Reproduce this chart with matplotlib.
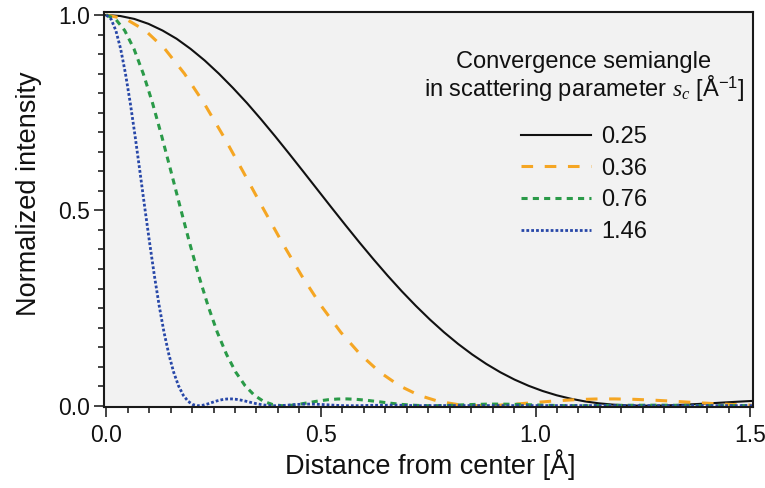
import matplotlib
matplotlib.use("Agg")
import matplotlib.pyplot as plt
from matplotlib.ticker import MultipleLocator

plt.rcParams['font.family'] = ['Liberation Sans', 'DejaVu Sans']
plt.rcParams['mathtext.fontset'] = 'custom'
plt.rcParams['mathtext.rm'] = 'Liberation Sans'
plt.rcParams['mathtext.it'] = 'Liberation Serif:italic'

# normalized intensity profile shared by the three narrower probes
profile = [1.0, 0.990, 0.9604, 0.9133, 0.8501, 0.7748, 0.6897, 0.5993, 0.5075,
           0.4175, 0.3326, 0.2555, 0.1879, 0.1312, 0.0856, 0.0511, 0.0267,
           0.0111, 0.0028, 0.00005, 0.0011, 0.00436, 0.0085, 0.01245, 0.01547,
           0.01717, 0.01742, 0.01636, 0.01425, 0.0115, 0.0085, 0.00564,
           0.00322, 0.00143, 0.00037, 0.0, 0.00023, 0.00088, 0.00176, 0.00267,
           0.00344, 0.00396, 0.00416, 0.00402, 0.0036, 0.00297, 0.00223,
           0.00149, 0.00085, 0.00036, 0.00008, 0.0002, 0.001, 0.0014, 0.0001,
           0.0004, 0.0002]

# s_c = 0.25 curve, sampled more densely
i_025 = [1.0, 0.9975, 0.990, 0.9775, 0.9604, 0.9393, 0.9133, 0.8836, 0.8501,
         0.8136, 0.7748, 0.7331, 0.6897, 0.6449, 0.5993, 0.5533, 0.5075,
         0.4621, 0.4175, 0.3743, 0.3326, 0.2929, 0.2555, 0.2204, 0.1879,
         0.1581, 0.1312, 0.1070, 0.0856, 0.0670, 0.0511, 0.0377, 0.0267,
         0.0179, 0.0111, 0.00617, 0.0028, 0.00085, 0.00005, 0.00019, 0.0011,
         0.00254, 0.00436, 0.0064, 0.0085, 0.01055, 0.01245]

# distance from center [A] for each convergence semiangle
r_025 = [0.0, 0.0328, 0.0656, 0.0984, 0.1312, 0.1640, 0.1967, 0.2295, 0.2623,
         0.2951, 0.3279, 0.3607, 0.3935, 0.4263, 0.4591, 0.4919, 0.5246,
         0.5574, 0.5902, 0.6230, 0.6558, 0.6886, 0.7214, 0.7542, 0.7870,
         0.8198, 0.8525, 0.8853, 0.9181, 0.9509, 0.9837, 1.0165, 1.0493,
         1.0821, 1.1149, 1.1477, 1.1804, 1.2132, 1.2460, 1.2788, 1.3116,
         1.3444, 1.3772, 1.4100, 1.4428, 1.4756, 1.5083]
r_036 = [0.0, 0.0455, 0.0911, 0.1366, 0.1822, 0.2277, 0.2732, 0.3188, 0.3643,
         0.4099, 0.4554, 0.5009, 0.5465, 0.5920, 0.6376, 0.6831, 0.7286,
         0.7742, 0.8197, 0.8653, 0.9108, 0.9563, 1.0019, 1.0474, 1.0930,
         1.1385, 1.1840, 1.2296, 1.2751, 1.3207, 1.3662, 1.4117, 1.4573, 1.5028]
r_076 = [0.0, 0.0216, 0.0431, 0.0647, 0.0863, 0.1079, 0.1294, 0.1510, 0.1726,
         0.1941, 0.2157, 0.2373, 0.2588, 0.2804, 0.3020, 0.3236, 0.3451,
         0.3667, 0.3883, 0.4098, 0.4314, 0.4530, 0.4745, 0.4961, 0.5177,
         0.5393, 0.5608, 0.5824, 0.6040, 0.6255, 0.6471, 0.6687, 0.6902,
         0.7118, 0.7334, 0.7550, 0.7765, 0.7981, 0.8197, 0.8412, 0.8628,
         0.8844, 0.9059, 0.9275, 0.9491, 0.9707, 0.9922, 1.0138, 1.0354,
         1.0569, 1.0785, 1.1324, 1.1864, 1.2942, 1.4021, 1.5099]
r_146 = [0.0, 0.0112, 0.0225, 0.0337, 0.0449, 0.0561, 0.0674, 0.0786, 0.0898,
         0.1011, 0.1123, 0.1235, 0.1347, 0.1460, 0.1572, 0.1684, 0.1796,
         0.1909, 0.2021, 0.2133, 0.2246, 0.2358, 0.2470, 0.2582, 0.2695,
         0.2807, 0.2919, 0.3032, 0.3144, 0.3256, 0.3368, 0.3481, 0.3593,
         0.3705, 0.3818, 0.3930, 0.4042, 0.4154, 0.4267, 0.4379, 0.4491,
         0.4603, 0.4716, 0.4828, 0.4940, 0.5053, 0.5165, 0.5277, 0.5389,
         0.5502, 0.5614, 0.5895, 0.6175, 0.6737, 0.7298, 0.7860, 1.5158]

labels = ['0.25', '0.36', '0.76', '1.46']
colors = ['#111111', '#F5A623', '#2A9A48', '#2747A8']
styles = ['-', (0, (3.8, 3.8)), (0, (2.0, 1.7)), (0, (1.0, 0.75))]
widths = [1.5, 2.2, 2.2, 2.0]
distances = [r_025, r_036, r_076, r_146]
intensities = [i_025, profile[:len(r_036)], profile[:len(r_076)], profile[:len(r_146)]]

fig = plt.figure(figsize=(7.65, 4.88), dpi=100)
ax = fig.add_axes([0.136, 0.1654, 0.848, 0.8094])
ax.set_facecolor('#F2F2F2')

for r, y, lab, c, ls, lw in zip(distances, intensities, labels, colors, styles, widths):
    ax.plot(r, y, color=c, linestyle=ls, linewidth=lw, label=lab)

ax.set_xlim(-0.005, 1.506)
ax.set_ylim(-0.004, 1.007)
ax.xaxis.set_major_locator(MultipleLocator(0.5))
ax.xaxis.set_minor_locator(MultipleLocator(0.05))
ax.yaxis.set_major_locator(MultipleLocator(0.5))
ax.yaxis.set_minor_locator(MultipleLocator(0.05))
ax.xaxis.set_major_formatter(plt.FormatStrFormatter('%.1f'))
ax.yaxis.set_major_formatter(plt.FormatStrFormatter('%.1f'))
ax.tick_params(which='major', direction='out', length=7, width=1.1,
               labelsize=16.5, colors='#111111', pad=3)
ax.tick_params(which='minor', direction='out', length=4.5, width=1.1,
               colors='#111111')
ax.tick_params(axis='x', which='major', pad=5)
for s in ax.spines.values():
    s.set_linewidth(1.5)
    s.set_color('#1a1a1a')

ax.set_xlabel('Distance from center [Å]', fontsize=19.5, color='#111111')
ax.set_ylabel('Normalized intensity', fontsize=19.5, color='#111111')
ax.xaxis.set_label_coords(0.503, -0.105)
ax.yaxis.set_label_coords(-0.095, 0.54)

fig.text(584 / 765, 1 - 77 / 488,
         'Convergence semiangle\nin scattering parameter $s_c$ [Å$^{-1}$]',
         ha='center', va='center', fontsize=17, color='#111111',
         multialignment='center', linespacing=1.0)

leg = ax.legend(loc='upper left', bbox_to_anchor=(521 / 765, 1 - 126 / 488),
                bbox_transform=fig.transFigure, frameon=False, fontsize=17,
                handlelength=2.97, handletextpad=0.42, labelspacing=0.41,
                borderpad=0, borderaxespad=0)
for t in leg.get_texts():
    t.set_color('#111111')

fig.savefig('out.png', dpi=100)
